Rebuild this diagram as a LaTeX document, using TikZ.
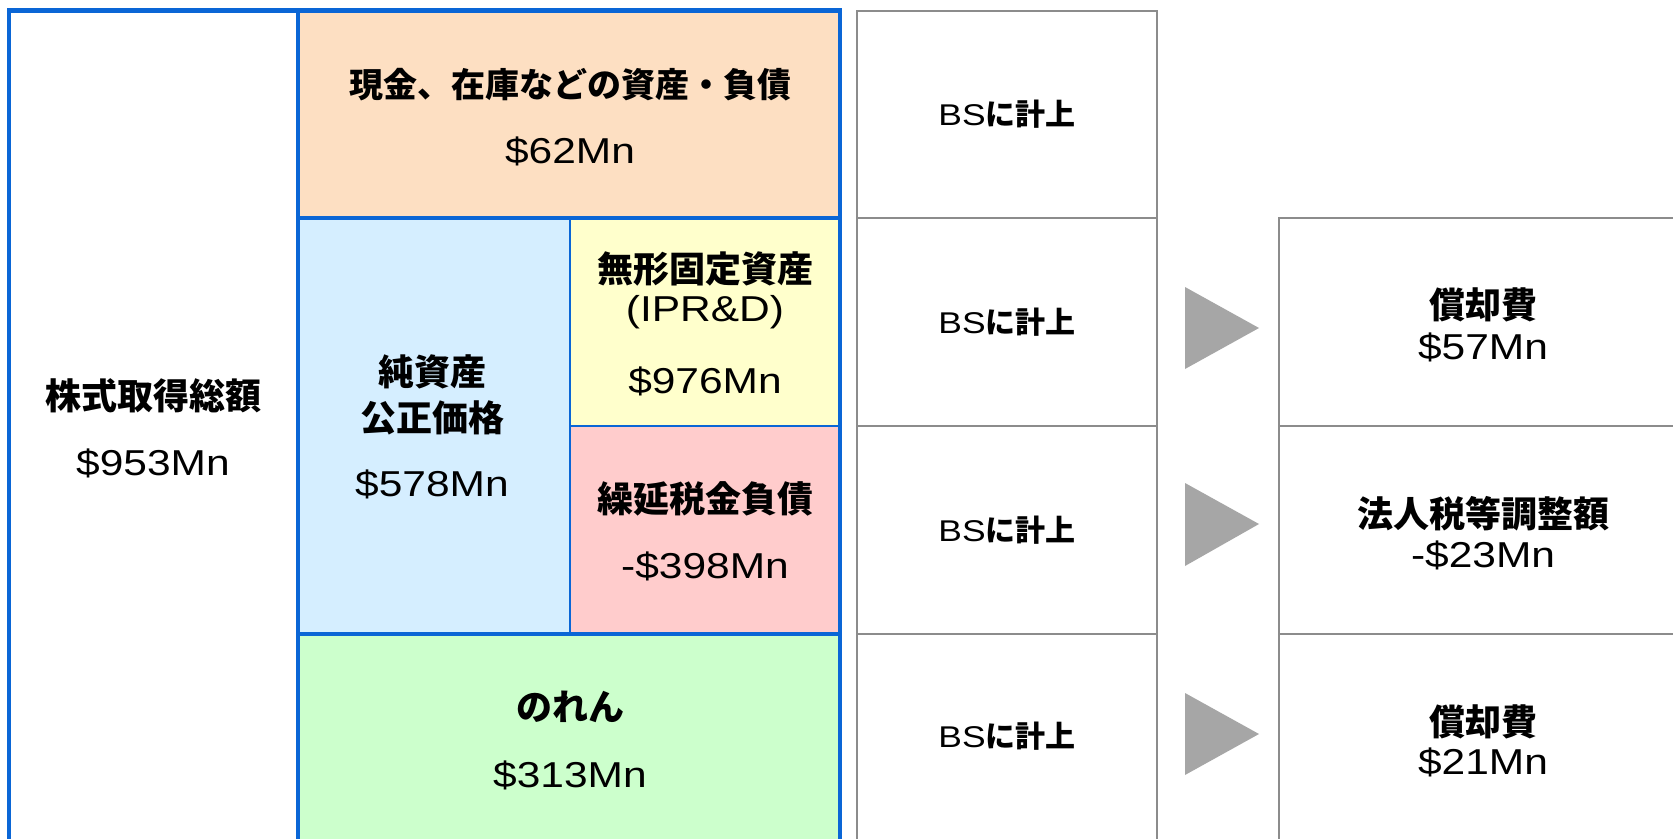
\documentclass[tikz,border=0pt]{standalone}
\usepackage{fontspec}
\setmainfont{Liberation Sans}[FakeStretch=1.18]
\newfontfamily\jp{Noto Sans CJK JP}[BoldFont={Noto Sans CJK JP Black}]
\usetikzlibrary{calc}
\definecolor{bblue}{HTML}{0A66D6}
\definecolor{gline}{HTML}{8C8C8C}
\definecolor{tri}{HTML}{A6A6A6}
\definecolor{cpeach}{HTML}{FDDFC2}
\definecolor{cblue}{HTML}{D5EEFF}
\definecolor{cyellow}{HTML}{FFFFCC}
\definecolor{cpink}{HTML}{FFCCCC}
\definecolor{cgreen}{HTML}{CCFFCC}
\begin{document}
\begin{tikzpicture}[x=1pt,y=-1pt,
  cell/.style={draw=none,inner sep=0pt,outer sep=0pt,anchor=north west},
  graybox/.style={draw=gline,line width=2pt,fill=white,inner sep=0pt,outer sep=0pt,anchor=north west},
  bframe/.style={draw=bblue,line width=4.5pt},
  bmid/.style={draw=bblue,line width=3.5pt},
  bthin/.style={draw=bblue,line width=2.5pt},
  jl/.style={inner sep=0pt,font=\jp\bfseries\fontsize{36}{40}\selectfont},
  jh/.style={inner sep=0pt,font=\jp\bfseries\fontsize{34}{38}\selectfont},
  nl/.style={inner sep=0pt,font=\fontsize{36}{40}\selectfont},
  bsl/.style={inner sep=0pt,font=\fontsize{30}{34}\selectfont},
  arrowtri/.style={fill=tri,draw=none}]
\useasboundingbox (0,0) rectangle (1673,838);
\clip (0,0) rectangle (1673,838);
\fill[white] (0,0) rectangle (1673,838);
% coloured cells
\node[cell,fill=white,minimum width=289,minimum height=900] (left) at (9,10.5) {};
\node[cell,fill=cpeach,minimum width=542,minimum height=207.5] (cash) at (298,10.5) {};
\node[cell,fill=cblue,minimum width=272,minimum height=416] (net) at (298,218) {};
\node[cell,fill=cyellow,minimum width=270,minimum height=208] (ipr) at (570,218) {};
\node[cell,fill=cpink,minimum width=270,minimum height=208] (dtl) at (570,426) {};
\node[cell,fill=cgreen,minimum width=542,minimum height=266] (good) at (298,634) {};
% blue lines
\draw[bthin] (ipr.north west) -- (dtl.south west);
\draw[bthin] (ipr.south west) -- (ipr.south east);
\draw[bmid] (cash.south west) -- (cash.south east);
\draw[bmid] (good.north west) -- (good.north east);
\draw[bframe] (left.north east) -- (left.south east);
\draw[bframe] (left.south west) -- (left.north west) -- (cash.north east) -- (good.south east);
% BS column
\node[graybox,minimum width=300,minimum height=207.5] (bs1) at (857,10.5) {};
\node[graybox,minimum width=300,minimum height=208] (bs2) at (857,218) {};
\node[graybox,minimum width=300,minimum height=208] (bs3) at (857,426) {};
\node[graybox,minimum width=300,minimum height=260] (bs4) at (857,634) {};
% right column
\node[graybox,minimum width=420,minimum height=208] (r1) at (1279,218) {};
\node[graybox,minimum width=420,minimum height=208] (r2) at (1279,426) {};
\node[graybox,minimum width=420,minimum height=260] (r3) at (1279,634) {};
% triangles
\fill[arrowtri] (1185,287) -- (1259,328) -- (1185,369) -- cycle;
\fill[arrowtri] (1185,483) -- (1259,524) -- (1185,566) -- cycle;
\fill[arrowtri] (1185,693) -- (1259,734) -- (1185,775) -- cycle;
% texts
\node[jl] (t1) at (153,396) {株式取得総額};
\node[nl] (v1) at (153,463) {\$953Mn};
\node[jh] (t2) at (570,85) {現金、在庫などの資産・負債};
\node[nl] (v2) at (570,151) {\$62Mn};
\node[jl] (t3a) at (432,372) {純資産};
\node[jl] (t3b) at (432,418) {公正価格};
\node[nl] (v3) at (432,484) {\$578Mn};
\node[jl] (t4) at (705,269) {無形固定資産};
\node[nl] (t4b) at (705,312) {(IPR\&D)};
\node[nl] (v4) at (705,381) {\$976Mn};
\node[jl] (t5) at (705,499) {繰延税金負債};
\node[nl] (v5) at (705,566) {-\$398Mn};
\node[jl] (t6) at (570,707) {のれん};
\node[nl] (v6) at (570,775) {\$313Mn};
\node[bsl] (b1) at (1007,114) {BS{\jp\bfseries に計上}};
\node[bsl] (b2) at (1007,322) {BS{\jp\bfseries に計上}};
\node[bsl] (b3) at (1007,530) {BS{\jp\bfseries に計上}};
\node[bsl] (b4) at (1007,736) {BS{\jp\bfseries に計上}};
\node[jl] (r1t) at (1483,305) {償却費};
\node[nl] (r1v) at (1483,347) {\$57Mn};
\node[jl] (r2t) at (1483,514) {法人税等調整額};
\node[nl] (r2v) at (1483,555) {-\$23Mn};
\node[jl] (r3t) at (1483,722) {償却費};
\node[nl] (r3v) at (1483,762) {\$21Mn};
\end{tikzpicture}
\end{document}
